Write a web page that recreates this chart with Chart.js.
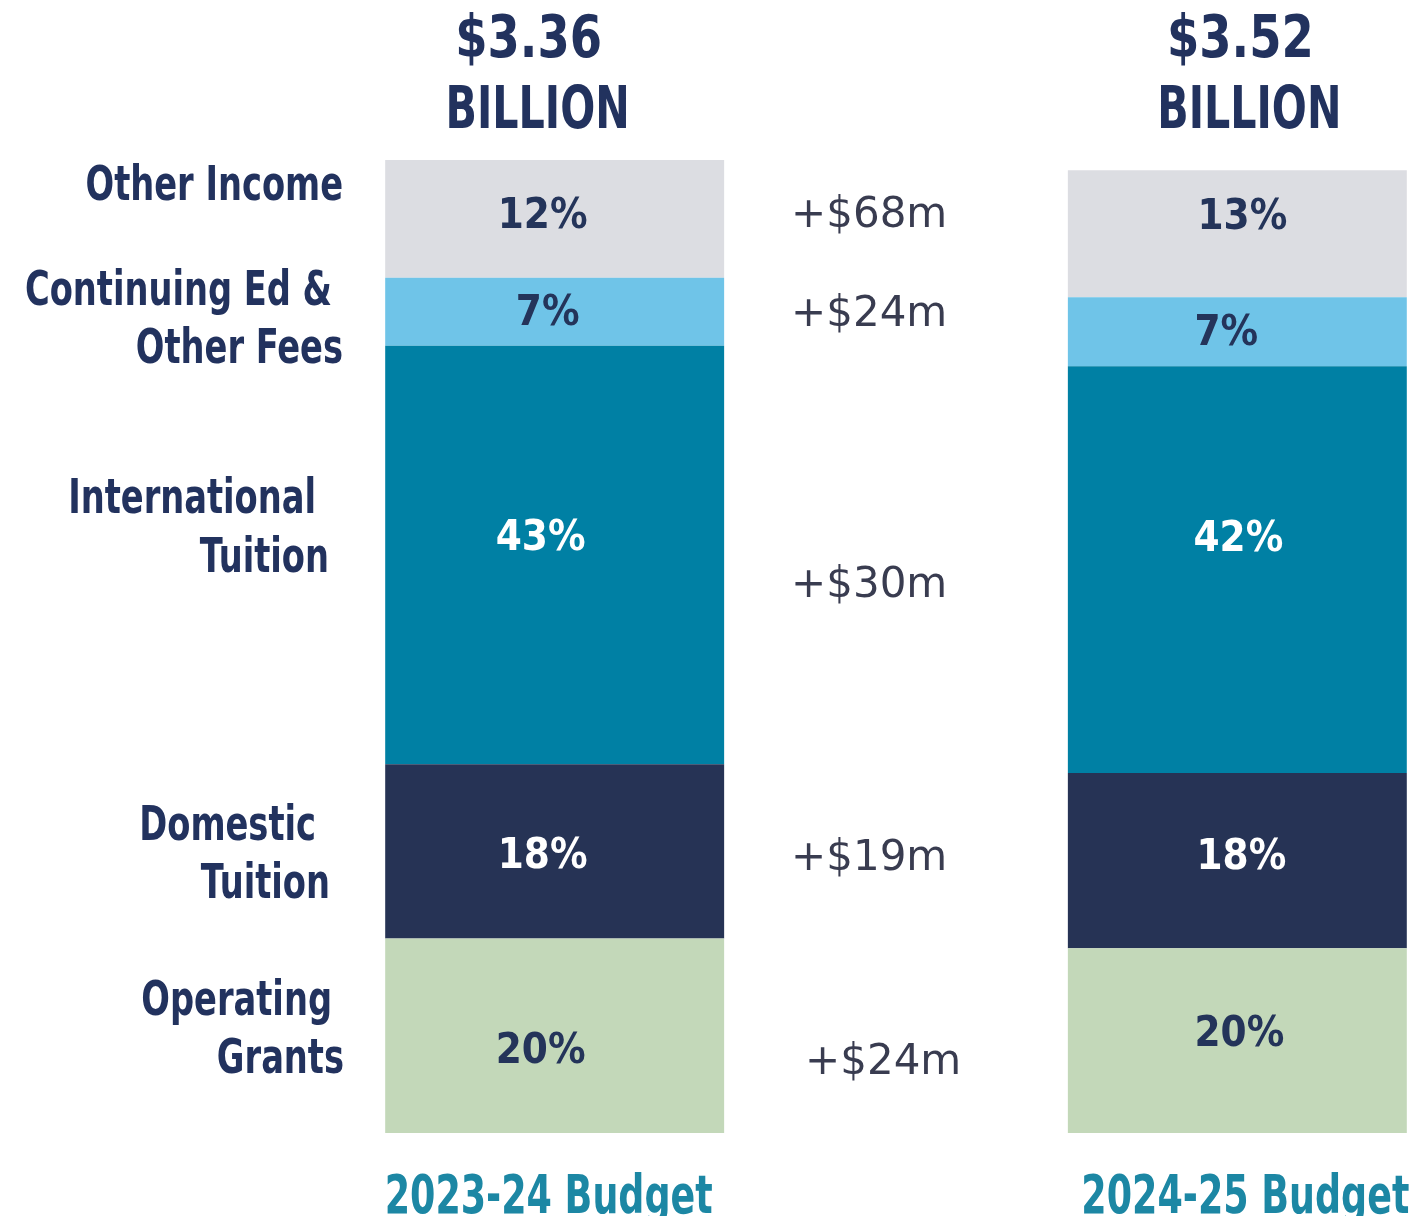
<!DOCTYPE html>
<html lang="en">
<head>
<meta charset="UTF-8">
<title>Operating Revenue: 2023-24 vs 2024-25 Budget</title>
<script src="https://cdn.jsdelivr.net/npm/chart.js@4.4.1/dist/chart.umd.min.js"></script>
<style>
    html, body { margin: 0; padding: 0; background: #fff; }
    #wrap { width: 1414px; height: 1216px; }
</style>
</head>
<body>
<div id="wrap"><canvas id="revChart" width="1414" height="1216"></canvas></div>
<script>
// columns: the empty middle slot holds the year-over-year change figures
const budgets = ['2023-24 Budget', '', '2024-25 Budget'];
const totals = ['$3.36', '', '$3.52'];

// revenue sources, bottom of the bar to the top
const sources = ['Operating Grants', 'Domestic Tuition', 'International Tuition', 'Continuing Ed & Other Fees', 'Other Income'];

// segment heights (in % of the 2023-24 bar)
const heights2324 = [20.0, 17.9, 43.0, 7.0, 12.1];
const heights2425 = [19.0, 18.0, 41.8, 7.1, 13.05];

// printed shares
const shares2324 = ['20%', '18%', '43%', '7%', '12%'];
const shares2425 = ['20%', '18%', '42%', '7%', '13%'];

// change from 2023-24 to 2024-25
const changes = ['+$24m', '+$19m', '+$30m', '+$24m', '+$68m'];

// ---- styling / layout ----
const segColors = ['#c3d8b9', '#263355', '#0080a4', '#6fc4e8', '#dcdde2'];
const shareColors = ['#24345a', '#ffffff', '#ffffff', '#24345a', '#24345a'];
const navy = '#22325e';
const teal = '#1c87a4';
// no narrow face installed, so the condensed face is squeezed sideways
const cond = '"DejaVu Sans Condensed", "DejaVu Sans", sans-serif';

// left-hand label lines and their [right edge, baseline]
const labelLines = [['Operating', 'Grants'], ['Domestic', 'Tuition'], ['International', 'Tuition'], ['Continuing Ed &', 'Other Fees'], ['Other Income']];
const labelPos = [[[332, 1015], [344, 1073]], [[316, 840], [330, 898]], [[316, 513], [329, 572]], [[332, 305], [343, 363]], [[343, 200]]];

// share label nudges [dx, dy from segment middle] per bar
const shareNudge = [
    [[-14, 27], [-12, 17], [-14, -5], [-7, 13], [-12, 9]],
    [[2, 5], [4, 8], [1, -19], [-11, 13], [5, -5]]
];
// change labels: [left x, baseline]
const changePos = [[805, 1074], [791, 870], [791, 597], [791, 326], [791, 227]];

const datasets = sources.map((s, i) => ({
    label: s,
    data: [heights2324[i], null, heights2425[i]],
    backgroundColor: segColors[i],
    borderWidth: 0,
    barPercentage: 1,
    categoryPercentage: 0.993
}));

function txt(ctx, s, x, y, font, color, align, sx) {
    ctx.save();
    ctx.font = font;
    ctx.fillStyle = color;
    ctx.textAlign = align;
    ctx.textBaseline = 'alphabetic';
    ctx.translate(x, y);
    ctx.scale(sx || 1, 1);
    ctx.fillText(s, 0, 0);
    ctx.restore();
}

const annotate = {
    id: 'annotate',
    afterDatasetsDraw(chart) {
        const ctx = chart.ctx;
        const xs = chart.scales.x;

        // shares inside the bars
        [shares2324, shares2425].forEach((shares, b) => {
            const col = b === 0 ? 0 : 2;
            shares.forEach((s, i) => {
                const el = chart.getDatasetMeta(i).data[col];
                const mid = (el.y + el.base) / 2;
                const n = shareNudge[b][i];
                txt(ctx, s, el.x + n[0], mid + n[1], 'bold 43px ' + cond, shareColors[i], 'center', 0.97);
            });
        });

        // change figures in the middle
        changes.forEach((c, i) => {
            txt(ctx, c, changePos[i][0], changePos[i][1], '42px "DejaVu Sans", sans-serif', '#393c50', 'left', 1);
        });

        // source labels on the left
        labelLines.forEach((lines, i) => {
            lines.forEach((l, k) => {
                txt(ctx, l, labelPos[i][k][0], labelPos[i][k][1], 'bold 48px ' + cond, navy, 'right', 0.78);
            });
        });

        // totals on top and budget names underneath
        [0, 2].forEach((col, b) => {
            const cx = xs.getPixelForValue(col);
            const off = b === 0 ? [-26, -17, -6] : [3, 12, 8];
            txt(ctx, totals[col], cx + off[0], 57, 'bold 58px ' + cond, navy, 'center', 0.89);
            txt(ctx, 'BILLION', cx + off[1], 128, 'bold 58px ' + cond, navy, 'center', 0.79);
            txt(ctx, budgets[col], cx + off[2], 1213, 'bold 54px ' + cond, teal, 'center', 0.75);
        });
    }
};

new Chart(document.getElementById('revChart'), {
    type: 'bar',
    data: { labels: budgets, datasets: datasets },
    options: {
        responsive: false,
        animation: false,
        events: [],
        layout: { padding: { top: 160, bottom: 83, left: 384, right: 6 } },
        scales: {
            x: { stacked: true, display: false },
            y: { stacked: true, display: false, min: 0, max: 100 }
        },
        plugins: {
            legend: { display: false },
            tooltip: { enabled: false }
        }
    },
    plugins: [annotate]
});
</script>
</body>
</html>
